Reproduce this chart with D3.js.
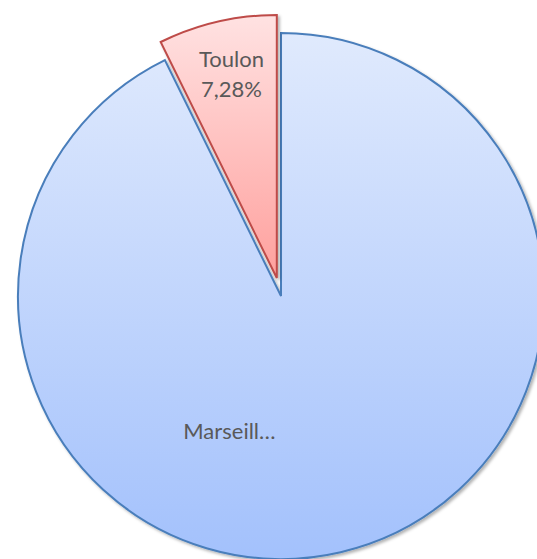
<!DOCTYPE html>
<html>
<head>
<meta charset="utf-8">
<script src="https://cdn.jsdelivr.net/npm/d3@7"></script>
<style>
  body { margin: 0; background: #fff; }
  text { font-family: Lato, "Open Sans", "Liberation Sans", sans-serif; fill: #595959; font-size: 22px; }
</style>
</head>
<body>
<script>
// chart data
var cities = ["Marseille", "Toulon"];
var shares = [92.72, 7.28];
var labelLines = [["Marseill…"], ["Toulon", "7,28%"]];

var width = 537, height = 559;
var cx = 281, cy = 296, radius = 263;
var explode = [0, 18.5];

var svg = d3.select("body").append("svg")
  .attr("width", width)
  .attr("height", height);

var defs = svg.append("defs");

// gradients are in slice coordinates (origin at the pie centre)
function grad(id, top, bottom, y1, y2) {
  var g = defs.append("linearGradient")
    .attr("id", id)
    .attr("gradientUnits", "userSpaceOnUse")
    .attr("x1", 0).attr("x2", 0)
    .attr("y1", y1).attr("y2", y2);
  g.append("stop").attr("offset", "0%").attr("stop-color", top);
  g.append("stop").attr("offset", "100%").attr("stop-color", bottom);
}
grad("gBlue", "#e0eafd", "#a3c1fc", -radius, radius);
grad("gRed", "#ffe2e2", "#ffa09d", -radius, 0);

var shadow = defs.append("filter").attr("id", "shadow")
  .attr("x", "-10%").attr("y", "-10%").attr("width", "120%").attr("height", "120%");
shadow.append("feDropShadow")
  .attr("dx", 2).attr("dy", 2).attr("stdDeviation", 1.5)
  .attr("flood-color", "#000").attr("flood-opacity", 0.3);

var fills = ["url(#gBlue)", "url(#gRed)"];
var strokes = ["#4a7ebb", "#be4b48"];

var pie = d3.pie().sort(null).value(function(d) { return d; });
var arcs = pie(shares);

var arc = d3.arc().innerRadius(0).outerRadius(radius);

var g = svg.append("g").attr("transform", "translate(" + cx + "," + cy + ")");

var slices = g.selectAll(".slice").data(arcs).enter()
  .append("g")
  .attr("class", "slice")
  .attr("transform", function(d, i) {
    var mid = (d.startAngle + d.endAngle) / 2;
    return "translate(" + (Math.sin(mid) * explode[i]) + "," + (-Math.cos(mid) * explode[i]) + ")";
  });

slices.append("path")
  .attr("d", arc)
  .attr("fill", function(d, i) { return fills[i]; })
  .attr("stroke", function(d, i) { return strokes[i]; })
  .attr("stroke-width", 2)
  .attr("stroke-linejoin", "miter")
  .attr("filter", "url(#shadow)");

// labels: angle offset (deg) from slice middle, radius fraction
var labelPos = [[34, 0.55], [0.6, 0.795]];

slices.each(function(d, i) {
  var mid = (d.startAngle + d.endAngle) / 2 + labelPos[i][0] * Math.PI / 180;
  var r = radius * labelPos[i][1];
  var x = Math.sin(mid) * r, y = -Math.cos(mid) * r;
  var lines = labelLines[i];
  var t = d3.select(this).append("text")
    .attr("text-anchor", "middle")
    .attr("transform", "translate(" + x + "," + y + ")");
  lines.forEach(function(l, k) {
    t.append("tspan")
      .attr("x", 0)
      .attr("y", (k - (lines.length - 1) / 2) * 30)
      .attr("dy", "0.35em")
      .text(l);
  });
});
</script>
</body>
</html>
